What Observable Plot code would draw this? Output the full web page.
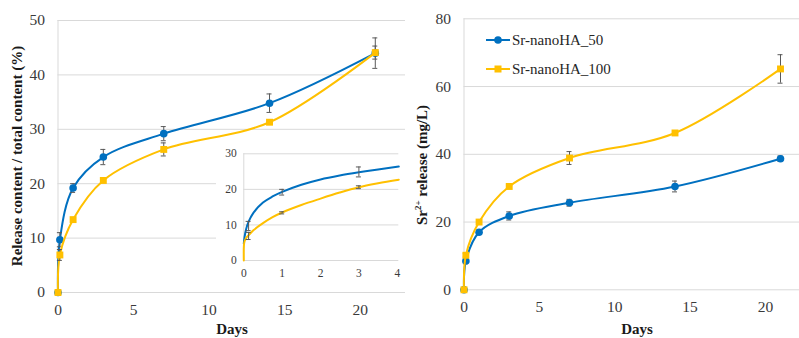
<!DOCTYPE html>
<html><head><meta charset="utf-8">
<script src="https://cdn.jsdelivr.net/npm/d3@7"></script>
<script src="https://cdn.jsdelivr.net/npm/@observablehq/plot@0.6"></script>
<style>
body{margin:0;background:#fff;}
#wrap{position:relative;width:799px;height:338px;overflow:hidden;font-family:"Liberation Serif";background:#fff;}
#wrap svg{position:absolute;overflow:visible;}
#wrap svg text{font-family:"Liberation Serif";}
.ttl{position:absolute;white-space:nowrap;font-weight:bold;font-size:15px;line-height:1;color:#1a1a1a;transform:translate(-50%,-50%);}
.rot{transform:translate(-50%,-50%) rotate(-90deg);}
.leg{position:absolute;display:flex;align-items:center;font-size:15px;color:#262626;white-space:nowrap;}
</style></head><body><div id="wrap"></div>
<script>
// ---- data ----
const days = [0, 0.125, 1, 3, 7, 14, 21];
const series = ["Sr-nanoHA_50", "Sr-nanoHA_100"];
const colors = ["#0070C0", "#FFC000"];
// left: release content / total content (%)
const rel50 = [0, 9.7, 19.2, 24.9, 29.2, 34.8, 44.0];
const rel50Err = [0, 1.3, 0.8, 1.4, 1.3, 1.7, 2.8];
const rel100 = [0, 6.9, 13.4, 20.6, 26.3, 31.3, 44.1];
const rel100Err = [0, 1.0, 0.3, 0.4, 1.2, 0.2, 1.2];
// right: Sr2+ release (mg/L)
const sr50 = [0, 8.5, 17.0, 21.8, 25.7, 30.5, 38.7];
const sr50Err = [0, 0.8, 0.6, 1.2, 1.0, 1.6, 0.8];
const sr100 = [0, 10.2, 20.0, 30.5, 38.9, 46.3, 65.2];
const sr100Err = [0, 0.5, 0.5, 0.5, 1.9, 0.5, 4.2];
// inset curves
const inset50Days = [0, 0.02, 0.06, 0.12, 0.25, 0.5, 0.75, 1, 1.5, 2, 2.5, 3, 3.5, 4.04];
const inset50Vals = [4.7, 6.6, 8.8, 10.8, 13.4, 16.3, 18.0, 19.3, 21.3, 22.8, 23.9, 24.8, 25.6, 26.4];
const inset100Days = [0, 0.003, 0.02, 0.06, 0.125, 0.25, 0.5, 0.75, 1, 1.5, 2, 2.5, 3, 3.5, 4.04];
const inset100Vals = [0, 4.2, 5.4, 6.3, 7.1, 8.5, 10.5, 12.2, 13.5, 15.6, 17.4, 19.1, 20.6, 21.7, 22.7];
const insetErrDays = [0.125, 1, 3];

const xTicksMain = [0, 5, 10, 15, 20];
const yTicksLeft = [0, 10, 20, 30, 40, 50];
const yTicksRight = [0, 20, 40, 60, 80];
const xTicksInset = [0, 1, 2, 3, 4];
const yTicksInset = [0, 10, 20, 30];

const rows = (xs, ys, es) => xs.map((x, i) => ({x, y: ys[i], e: es ? es[i] : 0}));
const grid = "#d9d9d9", errC = "#595959";
const FONT = "Liberation Serif";

function seriesMarks(data, color, symbol, r, showErr, capHalf) {
  const err = data.filter(d => d.e > 0);
  const m = [Plot.line(data, {x: "x", y: "y", curve: "catmull-rom", stroke: color, strokeWidth: 2})];
  if (showErr) {
    m.push(Plot.ruleX(err, {x: "x", y1: d => d.y - d.e, y2: d => d.y + d.e, stroke: errC, strokeWidth: 1}));
    m.push(Plot.ruleY(err, {y: d => d.y - d.e, x1: "x", x2: "x", insetLeft: -capHalf, insetRight: -capHalf, stroke: errC, strokeWidth: 1}));
    m.push(Plot.ruleY(err, {y: d => d.y + d.e, x1: "x", x2: "x", insetLeft: -capHalf, insetRight: -capHalf, stroke: errC, strokeWidth: 1}));
  }
  if (symbol) m.push(Plot.dot(data, {x: "x", y: "y", r, fill: color, stroke: "none", symbol}));
  return m;
}

const baseStyle = {fontFamily: FONT, fontSize: "15.5px", color: "#3a3a3a", background: "transparent", overflow: "visible"};

function mainChart(opt) {
  return Plot.plot({
    width: opt.width, height: 338,
    marginLeft: opt.ml, marginRight: opt.mr, marginTop: opt.mt, marginBottom: opt.mb,
    x: {domain: opt.xd},
    y: {domain: opt.yd},
    style: baseStyle,
    marks: [
      Plot.ruleY(opt.yt.filter(v => v > 0), {stroke: grid}),
      Plot.ruleY([0], {stroke: grid}),
      Plot.ruleX([0], {stroke: grid}),
      Plot.axisX(xTicksMain, {tickSize: 0, tickPadding: 11, label: null}),
      Plot.axisY(opt.yt, {tickSize: 0, tickPadding: 13, label: null}),
      ...seriesMarks(opt.a, colors[0], "circle", 3.8, true, 2.5),
      ...seriesMarks(opt.b, colors[1], "square", 3.9, true, 2.5)
    ]
  });
}

const wrap = document.getElementById("wrap");

const left = mainChart({width: 410, ml: 57.5, mr: 5, mt: 20, mb: 46, xd: [0, 23], yd: [0, 50], yt: yTicksLeft,
  a: rows(days, rel50, rel50Err), b: rows(days, rel100, rel100Err)});
left.style.left = "0px"; left.style.top = "0px";
wrap.appendChild(left);

const right = mainChart({width: 394, ml: 58.5, mr: 0, mt: 18.3, mb: 48.7, xd: [0, 22.26], yd: [0, 80], yt: yTicksRight,
  a: rows(days, sr50, sr50Err), b: rows(days, sr100, sr100Err)});
right.style.left = "405px"; right.style.top = "0px";
wrap.appendChild(right);

// inset
const pick = (vals, errs) => insetErrDays.map(d => ({x: d, y: vals[days.indexOf(d)], e: errs[days.indexOf(d)]}));
const inset = Plot.plot({
  width: 189, height: 148,
  marginLeft: 27.3, marginRight: 6.7, marginTop: 13.3, marginBottom: 28,
  x: {domain: [0, 4.04]},
  y: {domain: [0, 30]},
  style: {...baseStyle, fontSize: "11.5px", background: "#fff"},
  marks: [
    Plot.ruleY([10, 20, 30], {stroke: grid}),
    Plot.ruleY([0], {stroke: grid}),
    Plot.ruleX([0], {stroke: grid}),
    Plot.axisX(xTicksInset, {tickSize: 0, tickPadding: 8, label: null}),
    Plot.axisY(yTicksInset, {tickSize: 0, tickPadding: 7, label: null}),
    Plot.line(rows(inset50Days, inset50Vals), {x: "x", y: "y", curve: "catmull-rom", stroke: colors[0], strokeWidth: 2}),
    Plot.line(rows(inset100Days, inset100Vals), {x: "x", y: "y", curve: "catmull-rom", stroke: colors[1], strokeWidth: 2}),
    ...seriesMarks(pick(rel50, rel50Err), "none", null, 0, true, 2.5).slice(1),
    ...seriesMarks(pick(rel100, rel100Err), "none", null, 0, true, 2.5).slice(1)
  ]
});
inset.style.left = "216px"; inset.style.top = "140px";
wrap.appendChild(inset);

// titles
function title(text, x, y, rot) {
  const d = document.createElement("div");
  d.className = "ttl" + (rot ? " rot" : "");
  d.style.left = x + "px"; d.style.top = y + "px";
  d.textContent = text;
  wrap.appendChild(d);
  return d;
}
title("Days", 232, 329);
title("Days", 637, 329);
title("Release content / total content (%)", 17, 156, true);
const rt = title("", 422, 165, true);
rt.innerHTML = "Sr<sup style='font-size:9px;vertical-align:6px'>2+</sup> release (mg/L)";

// legend
series.forEach((s, i) => {
  const d = document.createElement("div");
  d.className = "leg";
  d.style.left = "486px"; d.style.top = (i === 0 ? 31 : 60) + "px";
  const sym = i === 0
    ? "<circle cx='12' cy='9' r='3.8' fill='" + colors[i] + "'/>"
    : "<rect x='8.5' y='5.5' width='7' height='7' fill='" + colors[i] + "'/>";
  d.innerHTML = "<svg width='25' height='18' style='position:static'><line x1='0' x2='24' y1='9' y2='9' stroke='" + colors[i] + "' stroke-width='2'/>" + sym + "</svg><span style='margin-left:1px'>" + s + "</span>";
  wrap.appendChild(d);
});
</script></body></html>
